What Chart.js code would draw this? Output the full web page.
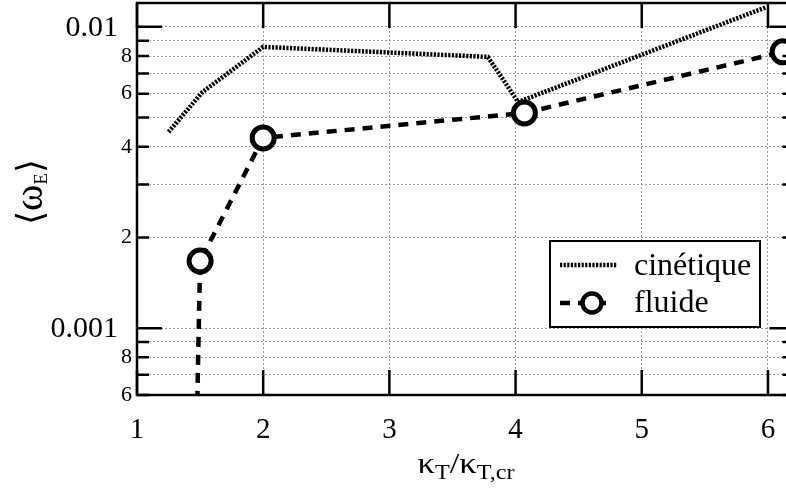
<!DOCTYPE html>
<html>
<head>
<meta charset="utf-8">
<script src="https://cdn.jsdelivr.net/npm/chart.js@4.4.1/dist/chart.umd.min.js"></script>
<style>
html, body { margin: 0; padding: 0; overflow: hidden; background: #fff; }
canvas { display: block; }
</style>
</head>
<body>
<canvas id="graphic" width="786" height="496"></canvas>
<script>
// valeurs
const kinX = [1.25, 1.52, 2.0, 3.78, 4.02, 5.98];
const kinY = [0.00448, 0.00608, 0.00858, 0.00795, 0.00563, 0.0116];
const fluX = [1.475, 1.5, 2.0, 4.07, 6.12];
const fluY = [0.0005, 0.00167, 0.00428, 0.00518, 0.00826];
const xTicks = [1, 2, 3, 4, 5, 6];
const yTicks = [0.0006, 0.0007, 0.0008, 0.0009, 0.001, 0.002, 0.003, 0.004, 0.005, 0.006, 0.007, 0.008, 0.009, 0.01];
const yLabels = ['6', '', '8', '', '0.001', '2', '', '4', '', '6', '', '8', '', '0.01'];
const seriesNames = ['cinétique', 'fluide'];

const SERIF = '"Liberation Serif", "DejaVu Serif", serif';
const graphic = document.getElementById('graphic');

// texte en morceaux (indices), centre sur 0
function drawParts(ctx, parts, sx) {
  let tot = 0;
  parts.forEach(p => { ctx.font = p[1] + 'px ' + SERIF; tot += ctx.measureText(p[0]).width; });
  ctx.scale(sx, 1);
  let cx = -tot / 2;
  parts.forEach(p => {
    ctx.font = p[1] + 'px ' + SERIF;
    ctx.fillText(p[0], cx, p[2]);
    cx += ctx.measureText(p[0]).width;
  });
}

// cadre, graduations vers l'interieur, libelles et legende
const decor = {
  id: 'decor',
  afterDraw(chart) {
    const { ctx, chartArea: a, scales: { x, y } } = chart;
    const xr = x.getPixelForValue(6.21); // bord droit du cadre, hors de l'image
    ctx.save();
    ctx.strokeStyle = '#000';
    ctx.lineWidth = 2.5;
    ctx.beginPath();
    ctx.moveTo(xr, a.top); ctx.lineTo(a.left, a.top);
    ctx.lineTo(a.left, a.bottom); ctx.lineTo(xr, a.bottom);
    ctx.stroke();

    ctx.beginPath();
    xTicks.forEach(v => {
      const px = x.getPixelForValue(v);
      ctx.moveTo(px, a.bottom); ctx.lineTo(px, a.bottom - 25);
      ctx.moveTo(px, a.top); ctx.lineTo(px, a.top + 25);
    });
    yTicks.forEach((v, i) => {
      const py = y.getPixelForValue(v);
      const len = yLabels[i].startsWith('0.') ? 25 : 12;
      ctx.moveTo(a.left, py); ctx.lineTo(a.left + len, py);
      ctx.moveTo(xr, py); ctx.lineTo(xr - len, py);
    });
    ctx.stroke();

    ctx.fillStyle = '#000';
    ctx.font = '29px ' + SERIF;
    ctx.textAlign = 'center';
    ctx.textBaseline = 'alphabetic';
    xTicks.forEach(v => ctx.fillText(String(v), x.getPixelForValue(v), 438));

    ctx.textAlign = 'right';
    ctx.textBaseline = 'middle';
    yTicks.forEach((v, i) => {
      const lab = yLabels[i];
      if (!lab) return;
      const py = y.getPixelForValue(v);
      if (lab.startsWith('0.')) {
        ctx.font = '30px ' + SERIF;
        ctx.fillText(lab, 118, py + 1);
      } else {
        ctx.font = '22px ' + SERIF;
        ctx.fillText(lab, 132, py);
      }
    });

    ctx.textAlign = 'left';
    ctx.textBaseline = 'alphabetic';

    // titre axe x : kT/kT,cr
    ctx.save();
    ctx.translate(466, 473);
    drawParts(ctx, [['κ', 30, 0], ['T', 21, 6], ['/', 30, 0], ['κ', 30, 0], ['T,cr', 21, 6]], 1.15);
    ctx.restore();

    // titre axe y : <wE>
    ctx.save();
    ctx.translate(42, 192);
    ctx.rotate(-Math.PI / 2);
    drawParts(ctx, [['⟨', 36, 0], ['ω', 40, 0], ['E', 19, 5], ['⟩', 36, 0]], 1);
    ctx.restore();

    // legende
    const ds = chart.data.datasets;
    ctx.fillStyle = '#fff';
    ctx.fillRect(550, 241, 210, 86);
    ctx.lineWidth = 2;
    ctx.strokeRect(550, 241, 210, 86);

    ctx.lineWidth = ds[0].borderWidth;
    ctx.setLineDash(ds[0].borderDash);
    ctx.beginPath(); ctx.moveTo(560, 265); ctx.lineTo(617, 265); ctx.stroke();

    ctx.lineWidth = ds[1].borderWidth;
    ctx.setLineDash(ds[1].borderDash);
    ctx.beginPath(); ctx.moveTo(560, 303); ctx.lineTo(612, 303); ctx.stroke();
    ctx.setLineDash([]);
    ctx.lineWidth = 4.5;
    ctx.fillStyle = '#fff';
    ctx.beginPath(); ctx.arc(592, 303, 9.5, 0, Math.PI * 2); ctx.fill(); ctx.stroke();

    ctx.fillStyle = '#000';
    ctx.font = '32px ' + SERIF;
    ctx.fillText(ds[0].label, 634, 275);
    ctx.fillText(ds[1].label, 634, 312);
    ctx.restore();
  }
};

const chart = new Chart(graphic, {
  type: 'line',
  data: {
    datasets: [
      {
        label: seriesNames[0],
        data: kinX.map((v, i) => ({ x: v, y: kinY[i] })),
        borderColor: '#000',
        borderWidth: 4.5,
        borderDash: [2.2, 1.4],
        pointRadius: 0,
        fill: false,
        tension: 0,
      },
      {
        label: seriesNames[1],
        data: fluX.map((v, i) => ({ x: v, y: fluY[i] })),
        borderColor: '#000',
        borderWidth: 4.5,
        borderDash: [10, 8],
        pointRadius: fluX.map((v, i) => (i === 0 ? 0 : 11)),
        pointBorderWidth: 5,
        pointBorderColor: '#000',
        pointBackgroundColor: '#fff',
        fill: false,
        tension: 0,
      },
    ],
  },
  options: {
    responsive: false,
    animation: false,
    events: [],
    layout: { autoPadding: false, padding: { top: 3, right: 0, left: 0, bottom: 0 } },
    plugins: { legend: { display: false }, tooltip: { enabled: false } },
    scales: {
      x: {
        type: 'linear',
        min: 1,
        max: 6.143,
        afterBuildTicks: s => { s.ticks = xTicks.map(v => ({ value: v })); },
        afterFit: s => { s.height = 101; },
        ticks: { display: false },
        grid: { color: '#9a9a9a', lineWidth: 1, drawTicks: false },
        border: { display: false, dash: [2, 2] },
      },
      y: {
        type: 'logarithmic',
        min: 0.0006,
        max: 0.012,
        afterBuildTicks: s => { s.ticks = yTicks.map(v => ({ value: v })); },
        afterFit: s => { s.width = 137; },
        ticks: { display: false },
        grid: { color: '#9a9a9a', lineWidth: 1, drawTicks: false },
        border: { display: false, dash: [2, 2] },
      },
    },
  },
  plugins: [decor],
});
</script>
</body>
</html>
